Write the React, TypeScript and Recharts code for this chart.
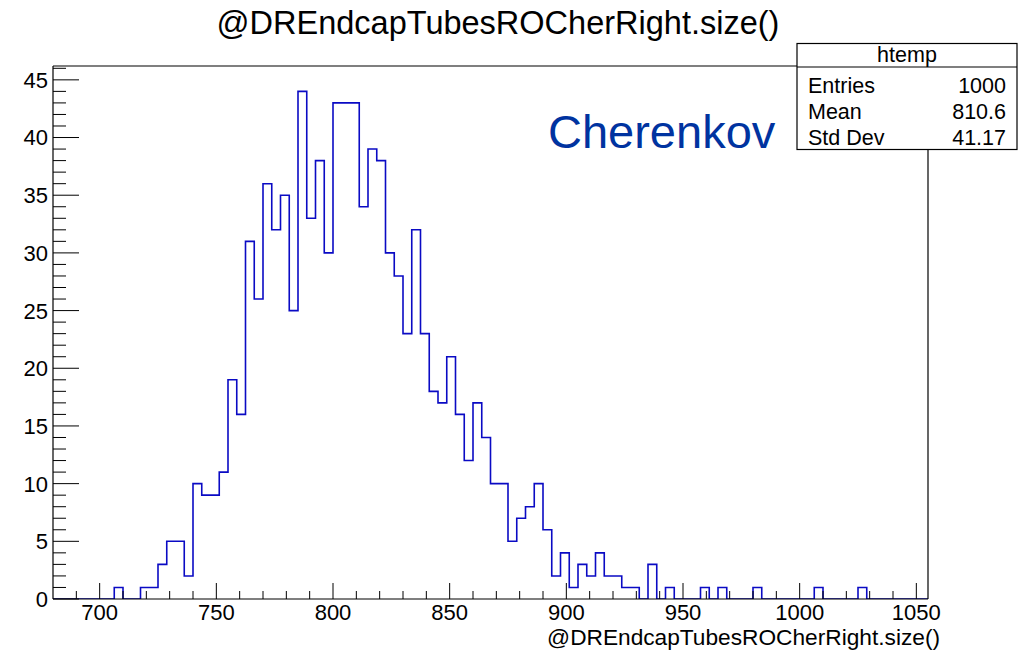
import { Line, LineChart, XAxis, YAxis } from "recharts";

// histogram binning (100 bins)
const X_MIN = 680;
const BIN_WIDTH = 3.75;
const COUNTS = [
  0, 0, 0, 0, 0, 0, 0, 1, 0, 0,
  1, 1, 3, 5, 5, 2, 10, 9, 9, 11,
  19, 16, 31, 26, 36, 32, 35, 25, 44, 33,
  38, 30, 43, 43, 43, 34, 39, 38, 30, 28,
  23, 32, 23, 18, 17, 21, 16, 12, 17, 14,
  10, 10, 5, 7, 8, 10, 6, 2, 4, 1,
  3, 2, 4, 2, 2, 1, 1, 0, 3, 0,
  1, 0, 0, 0, 1, 0, 1, 0, 0, 0,
  1, 0, 0, 0, 0, 0, 0, 1, 0, 0,
  0, 0, 1, 0, 0, 0, 0, 0, 0, 0,
];

const X_MAJOR = [700, 750, 800, 850, 900, 950, 1000, 1050];
const X_MINOR_STEP = 10;
const Y_MAJOR = [0, 5, 10, 15, 20, 25, 30, 35, 40, 45];
const Y_MINOR_STEP = 1;
const Y_MAX = 46.2;

const STATS_TITLE = "htemp";
const STATS_LABELS = ["Entries", "Mean", "Std Dev"];
const STATS_VALUES = ["1000", "810.6", "41.17"];

const TITLE = "@DREndcapTubesROCherRight.size()";
const X_TITLE = "@DREndcapTubesROCherRight.size()";
const TAG = "Cherenkov";

const FONT = "'Liberation Sans', Arial, Helvetica, sans-serif";
const LINE_COLOR = "#0a0ac4";

const X_MAX = X_MIN + COUNTS.length * BIN_WIDTH;

// step outline: one point per bin edge, last edge repeats the final bin
const histData = COUNTS.map((c, i) => ({ x: X_MIN + i * BIN_WIDTH, y: c }));
histData.push({ x: X_MAX, y: COUNTS[COUNTS.length - 1] });

const xTicks: number[] = [];
for (let v = 690; v <= X_MAX; v += X_MINOR_STEP) xTicks.push(v);
const yTicks: number[] = [];
for (let v = 0; v <= Y_MAX; v += Y_MINOR_STEP) yTicks.push(v);

const frameLine = { stroke: "#000", strokeWidth: 1.2 };

function XTick(props: any) {
  const { x, y, payload } = props;
  const major = X_MAJOR.includes(payload.value);
  return (
    <g>
      <line x1={x} x2={x} y1={y} y2={y - (major ? 16 : 8)} stroke="#000" strokeWidth={1} />
      {major && (
        <text x={x} y={y + 21} textAnchor="middle" fontSize={22} fontFamily={FONT} fill="#000">
          {payload.value}
        </text>
      )}
    </g>
  );
}

function YTick(props: any) {
  const { x, y, payload } = props;
  const major = Y_MAJOR.includes(payload.value);
  return (
    <g>
      <line x1={x} x2={x + (major ? 26 : 13)} y1={y} y2={y} stroke="#000" strokeWidth={1} />
      {major && (
        <text x={x - 5} y={y} dy="0.36em" textAnchor="end" fontSize={22} fontFamily={FONT} fill="#000">
          {payload.value}
        </text>
      )}
    </g>
  );
}

export default function App() {
  return (
    <div style={{ position: "absolute", left: 0, top: 0, width: 1023, height: 650, background: "#fff" }}>
      <LineChart
        width={1023}
        height={650}
        data={histData}
        margin={{ top: 65, right: 94, bottom: 21, left: 0 }}
      >
        <XAxis
          dataKey="x"
          type="number"
          domain={[X_MIN, X_MAX]}
          ticks={xTicks}
          interval={0}
          allowDataOverflow
          height={30}
          tickSize={0}
          tickMargin={0}
          tickLine={false}
          axisLine={frameLine}
          tick={<XTick />}
        />
        <XAxis
          xAxisId="top"
          orientation="top"
          type="number"
          domain={[X_MIN, X_MAX]}
          height={1}
          tick={false}
          tickLine={false}
          axisLine={frameLine}
        />
        <YAxis
          type="number"
          domain={[0, Y_MAX]}
          ticks={yTicks}
          interval={0}
          allowDataOverflow
          width={53}
          tickSize={0}
          tickMargin={0}
          tickLine={false}
          axisLine={frameLine}
          tick={<YTick />}
        />
        <YAxis
          yAxisId="right"
          orientation="right"
          type="number"
          domain={[0, Y_MAX]}
          width={1}
          tick={false}
          tickLine={false}
          axisLine={frameLine}
        />
        <Line
          dataKey="y"
          type="stepAfter"
          stroke={LINE_COLOR}
          strokeWidth={1.6}
          dot={false}
          activeDot={false}
          isAnimationActive={false}
        />
      </LineChart>

      <svg
        width={1023}
        height={650}
        style={{ position: "absolute", left: 0, top: 0, pointerEvents: "none" }}
        fontFamily={FONT}
      >
        <text x={498} y={34} textAnchor="middle" fontSize={32.5} fill="#000">
          {TITLE}
        </text>
        <text x={548} y={148} fontSize={47} fill="#0033a0">
          {TAG}
        </text>
        <text x={940} y={645} textAnchor="end" fontSize={22.7} fill="#000">
          {X_TITLE}
        </text>

        <rect x={797} y={43.5} width={220} height={106} fill="#fff" stroke="#000" strokeWidth={1.2} />
        <line x1={797} x2={1017} y1={67} y2={67} stroke="#000" strokeWidth={1.2} />
        <text x={907} y={62} textAnchor="middle" fontSize={21.5} fill="#000">
          {STATS_TITLE}
        </text>
        {STATS_LABELS.map((label, i) => (
          <g key={label}>
            <text x={808} y={93 + i * 26} fontSize={21.5} fill="#000">
              {label}
            </text>
            <text x={1006} y={93 + i * 26} textAnchor="end" fontSize={21.5} fill="#000">
              {STATS_VALUES[i]}
            </text>
          </g>
        ))}
      </svg>
    </div>
  );
}
